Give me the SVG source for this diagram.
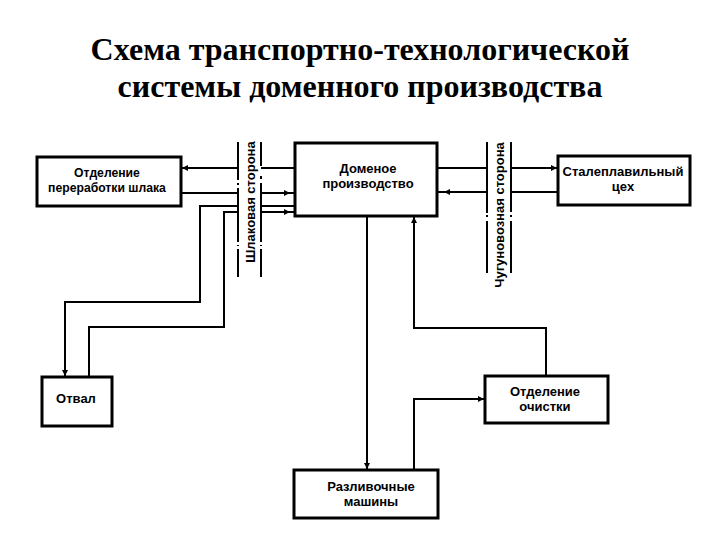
<svg xmlns="http://www.w3.org/2000/svg" width="720" height="540" viewBox="0 0 720 540">
<defs>
<marker id="ah" viewBox="0 0 10 10" refX="10" refY="5" markerWidth="8" markerHeight="6" markerUnits="userSpaceOnUse" orient="auto">
<path d="M0,0 L10,5 L0,10 Z" fill="#000"/>
</marker>
<style>
.box{fill:#fff;stroke:#000;stroke-width:3}
.lbl{font-family:"Liberation Sans",Arial,sans-serif;font-weight:bold;font-size:13px;fill:#000;text-anchor:middle}
.sm{font-size:12.2px}
.ttl{font-family:"Liberation Serif","Times New Roman",serif;font-weight:bold;font-size:32px;fill:#000;text-anchor:middle}
.ln{fill:none;stroke:#000;stroke-width:2}
.arr{fill:none;stroke:#000;stroke-width:2;marker-end:url(#ah)}
.side{fill:none;stroke:#000;stroke-width:2}
</style>
</defs>
<rect width="720" height="540" fill="#fff"/>
<g id="title">
<text class="ttl" x="360" y="60">Схема транспортно-технологической</text>
<text class="ttl" x="360" y="97">системы доменного производства</text>
</g>
<g id="slag-side">
<path class="side" d="M238,142V180M238,183V185M238,188V242M238,245V246M238,249V277M261,142V166M261,176V179M261,183V242M261,245V246M261,249V277"/>
<text class="lbl" transform="translate(255,202) rotate(-90)">Шлаковая сторона</text>
</g>
<g id="iron-side">
<path class="side" d="M487,142V213M487,215V217M487,221V273M511,142V212M511,215V217M511,221V273"/>
<text class="lbl" transform="translate(504,215) rotate(-90)">Чугуновозная сторона</text>
</g>
<g id="connectors">
<path class="ln" d="M295,168H261"/>
<path class="arr" d="M238,168H182"/>
<path class="ln" d="M181,193H238M261,193H295"/>
<path class="arr" d="M261,193H290"/>
<path class="ln" d="M295,206H261M238,206H200V302H65V370"/>
<path class="arr" d="M65,302V376"/>
<path class="ln" d="M89,377V327H224V212H238M261,212H295"/>
<path class="arr" d="M261,212H290"/>
<path class="ln" d="M437,168H487"/>
<path class="arr" d="M511,168H557"/>
<path class="ln" d="M558,192H511M487,192H437"/>
<path class="arr" d="M487,192H444"/>
<path class="arr" d="M367,216V469"/>
<path class="arr" d="M546,376V328H414V217"/>
<path class="arr" d="M414,470V399H484"/>
</g>
<g id="slag-processing">
<rect class="box" x="37" y="157" width="144" height="49"/>
<text class="lbl sm" x="107" y="177">Отделение</text>
<text class="lbl sm" x="107" y="192">переработки шлака</text>
</g>
<g id="blast-furnace">
<rect class="box" x="295" y="143" width="142" height="73"/>
<text class="lbl" x="368" y="173">Доменое</text>
<text class="lbl" x="368" y="188">производство</text>
</g>
<g id="steel-shop">
<rect class="box" x="558" y="156" width="132" height="49"/>
<text class="lbl" x="623" y="176">Сталеплавильный</text>
<text class="lbl" x="623" y="191">цех</text>
</g>
<g id="dump">
<rect class="box" x="42" y="377" width="70" height="49"/>
<text class="lbl" x="76" y="403">Отвал</text>
</g>
<g id="cleaning">
<rect class="box" x="485" y="376" width="123" height="47"/>
<text class="lbl" x="545" y="396">Отделение</text>
<text class="lbl" x="545" y="411">очистки</text>
</g>
<g id="casting">
<rect class="box" x="294" y="470" width="144" height="48"/>
<text class="lbl" x="371" y="491">Разливочные</text>
<text class="lbl" x="371" y="506">машины</text>
</g>
</svg>
